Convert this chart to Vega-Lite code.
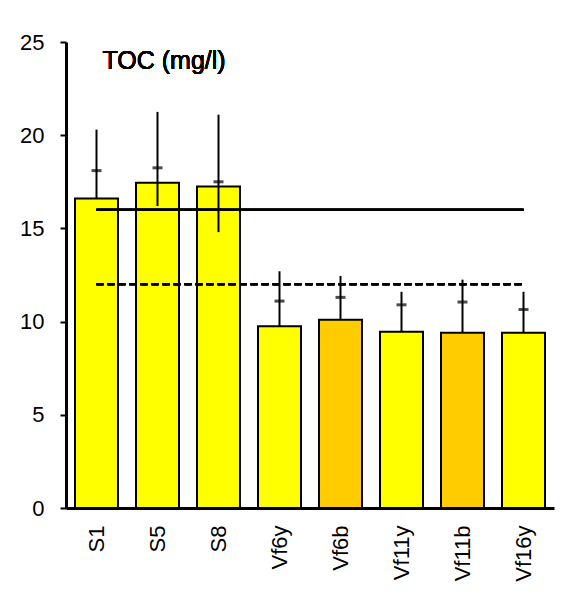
{
  "$schema": "https://vega.github.io/schema/vega-lite/v6.json",
  "autosize": "none",
  "padding": {"left": 66, "top": 42, "right": 11, "bottom": 89},
  "width": 488,
  "height": 466,
  "background": "white",
  "config": {
    "view": {"stroke": null},
    "font": "Liberation Sans",
    "axis": {"grid": false, "domainColor": "black", "tickColor": "black", "labelColor": "black", "labelFont": "Liberation Sans", "labelFontSize": 22, "domainWidth": 3}
  },
  "data": {
    "values": [
      {"site": "S1", "toc": 16.6, "lo": 16.6, "hi": 20.3, "mid": 18.1, "kind": "y"},
      {"site": "S5", "toc": 17.45, "lo": 16.2, "hi": 21.25, "mid": 18.25, "kind": "y"},
      {"site": "S8", "toc": 17.25, "lo": 14.8, "hi": 21.1, "mid": 17.5, "kind": "y"},
      {"site": "Vf6y", "toc": 9.75, "lo": 9.75, "hi": 12.7, "mid": 11.1, "kind": "y"},
      {"site": "Vf6b", "toc": 10.1, "lo": 10.1, "hi": 12.45, "mid": 11.3, "kind": "b"},
      {"site": "Vf11y", "toc": 9.45, "lo": 9.45, "hi": 11.6, "mid": 10.9, "kind": "y"},
      {"site": "Vf11b", "toc": 9.4, "lo": 9.4, "hi": 12.25, "mid": 11.05, "kind": "b"},
      {"site": "Vf16y", "toc": 9.4, "lo": 9.4, "hi": 11.6, "mid": 10.65, "kind": "y"}
    ]
  },
  "layer": [
    {
      "mark": {"type": "bar", "stroke": "black", "strokeWidth": 2},
      "encoding": {
        "x": {"field": "site", "type": "nominal", "sort": null,
              "scale": {"paddingInner": 0.295, "paddingOuter": 0.1475},
              "axis": {"title": null, "labelAngle": -90, "ticks": false, "labelPadding": 17, "labelBaseline": "middle", "labelAlign": "right"}},
        "y": {"field": "toc", "type": "quantitative",
              "scale": {"domain": [0, 25], "nice": false},
              "axis": {"title": null, "values": [0, 5, 10, 15, 20, 25], "tickSize": 6, "tickWidth": 2, "labelPadding": 16}},
        "color": {"field": "kind", "type": "nominal", "scale": {"domain": ["y", "b"], "range": ["#FFFF00", "#FFCC00"]}, "legend": null}
      }
    },
    {
      "mark": {"type": "rule", "color": "black", "strokeWidth": 2},
      "encoding": {
        "x": {"datum": "S1", "type": "nominal"},
        "x2": {"datum": "Vf16y"},
        "y": {"datum": 16, "type": "quantitative"}
      }
    },
    {
      "mark": {"type": "rule", "color": "black", "strokeWidth": 2, "strokeDash": [7, 4]},
      "encoding": {
        "x": {"datum": "S1", "type": "nominal"},
        "x2": {"datum": "Vf16y"},
        "y": {"datum": 12, "type": "quantitative"}
      }
    },
    {
      "mark": {"type": "rule", "color": "black", "strokeWidth": 2},
      "encoding": {
        "x": {"field": "site", "type": "nominal", "sort": null},
        "y": {"field": "lo", "type": "quantitative"},
        "y2": {"field": "hi"}
      }
    },
    {
      "mark": {"type": "tick", "color": "black", "size": 10, "thickness": 3, "orient": "horizontal"},
      "encoding": {
        "x": {"field": "site", "type": "nominal", "sort": null},
        "y": {"field": "mid", "type": "quantitative"}
      }
    },
    {
      "mark": {"type": "text", "align": "left", "baseline": "alphabetic", "dx": 6, "fontSize": 25, "fontWeight": "normal", "font": "Liberation Sans", "color": "black"},
      "encoding": {
        "x": {"datum": "S1", "type": "nominal"},
        "y": {"datum": 23.56, "type": "quantitative"},
        "text": {"value": "TOC (mg/l)"}
      }
    }
  ]
}
